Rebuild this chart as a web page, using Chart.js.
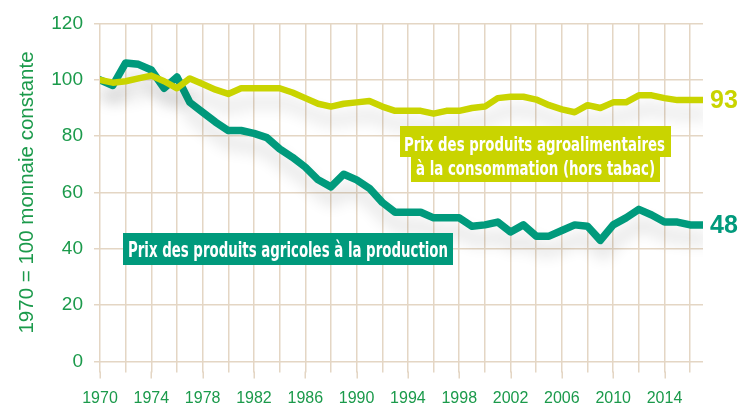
<!DOCTYPE html>
<html><head><meta charset="utf-8">
<script src="https://cdn.jsdelivr.net/npm/chart.js@4.4.1/dist/chart.umd.min.js"></script>
<style>html,body{margin:0;padding:0;background:#fff;}#wrap{width:742px;height:403px;position:relative;}</style>
</head><body><div id="wrap"><canvas id="c" width="742" height="403"></canvas></div>
<script>
const years = [1970,1971,1972,1973,1974,1975,1976,1977,1978,1979,1980,1981,1982,1983,1984,1985,1986,1987,1988,1989,1990,1991,1992,1993,1994,1995,1996,1997,1998,1999,2000,2001,2002,2003,2004,2005,2006,2007,2008,2009,2010,2011,2012,2013,2014,2015,2016,2017];
const consumerPrices = [100,99,99.5,100.5,101.5,99.5,97,100.5,98.5,96.5,95,97,97,97,97,95.5,93.5,91.5,90.5,91.5,92,92.5,90.5,89,89,89,88,89,89,90,90.5,93.5,94,94,93,91,89.5,88.5,91,90,92,92,94.5,94.5,93.5,92.8,92.8,92.8];
const producerPrices = [100,98,106,105.5,103.5,97,101,92,88.5,85,82,82,81,79.5,75.5,72.5,69,64.5,62,66.5,64.5,61.5,56.5,53,53,53,51,51,51,48,48.5,49.5,46,48.5,44.5,44.5,46.5,48.5,48,43,48.5,51,54,52,49.5,49.5,48.5,48.5];
const seriesNames = ["Prix des produits agroalimentaires à la consommation (hors tabac)", "Prix des produits agricoles à la production"];
const endLabels = ["93", "48"];
const yTicks = [0,20,40,60,80,100,120];
const xLabelYears = [1970,1974,1978,1982,1986,1990,1994,1998,2002,2006,2010,2014];

const YELLOW = '#c9d400';
const TEAL = '#009a7c';
const GRID = '#e4d6c4';
const TXT = '#1b9a4b';

const shadowPlugin = {
  id: 'shadow',
  beforeDatasetsDraw(chart) {
    const ctx = chart.ctx; ctx.save();
    ctx.shadowColor = 'rgba(0,0,0,0.16)'; ctx.shadowBlur = 16; ctx.shadowOffsetY = 14; ctx.shadowOffsetX = 3;
  },
  afterDatasetsDraw(chart) { chart.ctx.restore(); }
};

const longTicks = {
  id: 'longTicks',
  afterDraw(chart) {
    const ctx = chart.ctx, xs = chart.scales.x, b = chart.chartArea.bottom;
    ctx.save(); ctx.strokeStyle = GRID; ctx.lineWidth = 1.5;
    xLabelYears.forEach(y => { const px = Math.round(xs.getPixelForValue(y)) + 0.25; ctx.beginPath(); ctx.moveTo(px, b + 10); ctx.lineTo(px, b + 17); ctx.stroke(); });
    ctx.restore();
  }
};

function box(ctx, x0, y0, x1, y1, color) { ctx.fillStyle = color; ctx.fillRect(x0, y0, x1 - x0, y1 - y0); }

const labelsPlugin = {
  id: 'labels',
  afterDraw(chart) {
    const ctx = chart.ctx, xs = chart.scales.x, ys = chart.scales.y;
    ctx.save();
    box(ctx, 123, 233, 453, 265, TEAL);
    ctx.fillStyle = '#fff'; ctx.textBaseline = 'alphabetic'; ctx.textAlign = 'left';
    ctx.font = 'bold 21px "Liberation Sans Narrow", "DejaVu Sans Condensed", "Liberation Sans", sans-serif';
    ctx.fillText(seriesNames[1], 128, 256.5, 320);
    box(ctx, 400, 126, 671, 157, YELLOW);
    box(ctx, 411, 157, 660, 182, YELLOW);
    ctx.fillStyle = '#fff';
    ctx.font = 'bold 20px "Liberation Sans Narrow", "DejaVu Sans Condensed", "Liberation Sans", sans-serif';
    ctx.fillText('Prix des produits agroalimentaires', 404, 150.5, 261);
    ctx.fillText('à la consommation (hors tabac)', 416, 174.5, 239);
    ctx.font = 'bold 25px "Liberation Sans", sans-serif';
    ctx.textBaseline = 'middle';
    const lastX = xs.getPixelForValue(years[years.length - 1]) + 7;
    ctx.fillStyle = YELLOW; ctx.fillText(endLabels[0], lastX, ys.getPixelForValue(consumerPrices[consumerPrices.length - 1]) + 1);
    ctx.fillStyle = TEAL; ctx.fillText(endLabels[1], lastX, ys.getPixelForValue(producerPrices[producerPrices.length - 1]) + 1);
    ctx.restore();
  }
};

new Chart(document.getElementById('c'), {
  type: 'line',
  data: {
    datasets: [
      { label: seriesNames[0], data: years.map((y, i) => ({x: y, y: consumerPrices[i]})), borderColor: YELLOW, borderWidth: 6.5, pointRadius: 0, tension: 0, borderJoinStyle: 'round', borderCapStyle: 'round', fill: false },
      { label: seriesNames[1], data: years.map((y, i) => ({x: y, y: producerPrices[i]})), borderColor: TEAL, borderWidth: 7.5, pointRadius: 0, tension: 0, borderJoinStyle: 'round', borderCapStyle: 'round', fill: false }
    ]
  },
  options: {
    responsive: false, animation: false, devicePixelRatio: 1,
    layout: { padding: { top: 23.5, right: 39, left: 0, bottom: 0 } },
    plugins: { legend: { display: false }, tooltip: { enabled: false } },
    scales: {
      x: {
        type: 'linear', min: 1970, max: 2017,
        afterFit: s => { s.height = 41.5; },
        border: { display: false },
        grid: { color: GRID, lineWidth: 1.5, tickLength: 11, tickColor: GRID },
        ticks: { stepSize: 2, includeBounds: false, autoSkip: false, maxRotation: 0, color: TXT, padding: 16.5,
          font: { family: '"Liberation Sans", Arial, sans-serif', size: 16 },
          callback: v => xLabelYears.includes(v) ? String(v) : '' }
      },
      y: {
        min: 0, max: 120,
        afterFit: s => { s.width = 100; },
        afterBuildTicks: s => { s.ticks = yTicks.map(v => ({value: v})); },
        border: { display: false },
        grid: { color: GRID, lineWidth: 1.5, tickLength: 6, tickColor: GRID },
        ticks: { color: TXT, padding: 11, font: { family: '"Liberation Sans", Arial, sans-serif', size: 19 } },
        title: { display: true, text: '1970 = 100 monnaie constante', color: TXT, padding: { top: 15, bottom: 0 },
          font: { family: '"Liberation Sans", Arial, sans-serif', size: 20.5 } }
      }
    }
  },
  plugins: [shadowPlugin, longTicks, labelsPlugin]
});
</script>
</body></html>
